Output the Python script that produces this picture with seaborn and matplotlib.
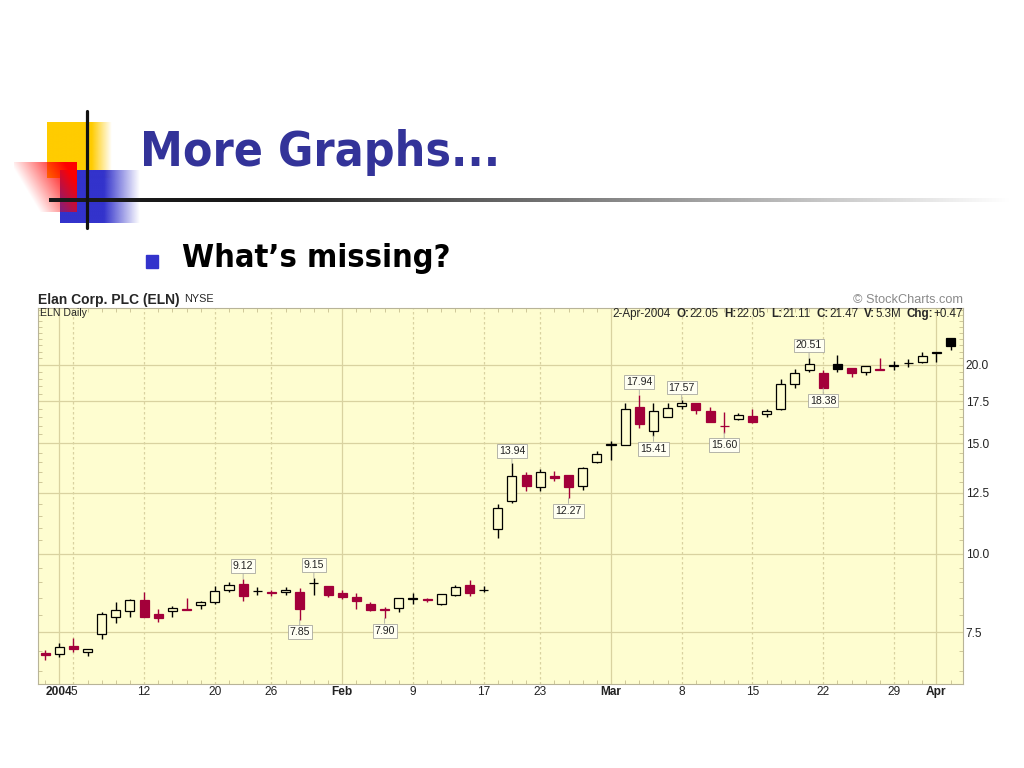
import matplotlib
matplotlib.use("Agg")
import matplotlib.pyplot as plt
import matplotlib.transforms as mtrans
import numpy as np
import pandas as pd
import seaborn as sns
from matplotlib import font_manager as fm
from matplotlib.ticker import FixedLocator, NullFormatter

# NYSE trading days shown on the chart (Dec 31 2003 .. Apr 2 2004)
holidays = ["2004-01-01", "2004-01-19", "2004-02-16"]
dates = pd.bdate_range("2003-12-31", "2004-04-02").drop(pd.to_datetime(holidays))

# daily prices of ELN
opens = [6.96, 6.91, 7.13, 6.98, 7.45, 7.92, 8.11, 8.44, 8.01, 8.10,
         8.18, 8.28, 8.38, 8.75, 8.95, 8.71, 8.70, 8.68, 8.68, 8.97,
         8.88, 8.65, 8.54, 8.31, 8.16, 8.21, 8.47, 8.46, 8.33, 8.59,
         8.91, 8.76, 10.95, 12.14, 13.35, 12.77, 13.28, 13.35, 12.82, 14.02,
         14.93, 14.91, 17.16, 15.69, 16.54, 17.19, 17.38, 16.91, 16.00, 16.40,
         16.58, 16.68, 16.99, 18.65, 19.63, 19.40, 20.05, 19.78, 19.51, 19.68,
         19.95, 20.12, 20.21, 20.90, 22.05]
highs = [7.02, 7.21, 7.33, 7.06, 8.08, 8.38, 8.46, 8.68, 8.18, 8.25,
         8.49, 8.41, 8.88, 9.02, 9.12, 8.86, 8.75, 8.84, 8.81, 9.15,
         8.90, 8.77, 8.67, 8.38, 8.23, 8.50, 8.65, 8.50, 8.63, 8.91,
         9.08, 8.88, 11.99, 13.94, 13.49, 13.64, 13.57, 13.37, 13.77, 14.59,
         15.15, 17.41, 17.94, 17.41, 17.41, 17.57, 17.40, 17.16, 16.85, 16.78,
         16.99, 17.00, 18.98, 19.68, 20.51, 19.63, 20.75, 19.78, 19.93, 20.50,
         20.26, 20.45, 21.00, 21.01, 22.05]
lows = [6.77, 6.85, 6.98, 6.86, 7.31, 7.77, 7.93, 7.92, 7.79, 7.93,
        8.14, 8.18, 8.33, 8.68, 8.41, 8.60, 8.56, 8.59, 7.85, 8.59,
        8.52, 8.46, 8.18, 8.11, 7.90, 8.08, 8.33, 8.38, 8.28, 8.57,
        8.56, 8.68, 10.58, 12.03, 12.60, 12.60, 13.07, 12.27, 12.66, 13.97,
        14.11, 14.90, 15.85, 15.41, 16.52, 16.99, 16.70, 16.22, 15.60, 16.34,
        16.18, 16.55, 16.95, 18.36, 19.51, 18.38, 19.47, 19.16, 19.28, 19.64,
        19.66, 19.86, 20.14, 20.20, 21.11]
closes = [6.90, 7.09, 7.04, 7.05, 8.01, 8.13, 8.44, 7.93, 7.90, 8.20,
          8.15, 8.38, 8.73, 8.91, 8.56, 8.72, 8.66, 8.77, 8.18, 8.99,
          8.61, 8.54, 8.41, 8.15, 8.13, 8.49, 8.50, 8.43, 8.62, 8.86,
          8.65, 8.77, 11.81, 13.30, 12.82, 13.51, 13.22, 12.80, 13.71, 14.42,
          14.96, 16.99, 16.08, 16.89, 17.09, 17.41, 16.95, 16.24, 15.98, 16.64,
          16.20, 16.91, 18.65, 19.40, 20.05, 18.40, 19.71, 19.40, 19.92, 19.66,
          19.97, 20.15, 20.67, 21.00, 21.47]
prior_close = 7.00  # Dec 30 2003, only used for the colour of the first candle

high_marks = [14, 19, 33, 42, 45, 54]
low_marks = [18, 24, 37, 43, 48, 55]

price_ticks = [7.5, 10.0, 12.5, 15.0, 17.5, 20.0]
quote = [("O:", "22.05"), ("H:", "22.05"), ("L:", "21.11"),
         ("C:", "21.47"), ("V:", "5.3M"), ("Chg:", "+0.47")]

BG = "#FEFDD0"
RED = "#A3003A"
GRID = "#D9D2A0"

sns.set_style("white")
plt.rcParams["font.family"] = ["Liberation Sans", "DejaVu Sans"]


def weight_of(f):
    w = f.weight
    if isinstance(w, str):
        w = fm.weight_dict.get(w, 400)
    return w


def narrow_bold_font():
    """Look for a bold narrow/condensed face, for the slide headings."""
    keys = ("Narrow", "Condensed", "Cond")
    for f in fm.fontManager.ttflist:
        narrow = any(k in f.name or k in f.fname for k in keys) or \
            str(f.stretch) in ("condensed", "semi-condensed", "extra-condensed")
        if narrow and weight_of(f) >= 600 and f.style == "normal":
            return fm.FontProperties(fname=f.fname)
    return fm.FontProperties(family=["Liberation Sans", "DejaVu Sans"],
                             weight="bold")


fig = plt.figure(figsize=(10.24, 7.68), dpi=100)
px = mtrans.Affine2D().scale(1 / 1024, -1 / 768).translate(0, 1) + fig.transFigure

# ---- slide decoration -------------------------------------------------
deco = fig.add_axes([0, 0, 1, 1], zorder=0)


def fade(rgb, alpha):
    img = np.zeros(alpha.shape + (4,))
    img[..., :3] = rgb
    img[..., 3] = np.clip(alpha, 0, 1)
    return img


u = np.linspace(0, 1, 200)[None, :]
v = np.linspace(0, 1, 200)[:, None]
deco.imshow(fade((1.0, 0.8, 0.0), (1 - u) / 0.31 + 0 * v),
            extent=(47, 112, 178, 122), aspect="auto", interpolation="bilinear")
deco.imshow(fade((0.2, 0.2, 0.8), (1 - u) / 0.45 + 0 * v),
            extent=(60, 140, 223, 170), aspect="auto", interpolation="bilinear")
deco.imshow(fade((1.0, 0.0, 0.0), 1.15 * u - 0.55 * v + 0.08),
            extent=(14, 77, 212, 162), aspect="auto", interpolation="bilinear")
grey = np.clip((np.linspace(49, 1010, 400) - 250) / 760, 0, 1)[None, :] * 0.9
bar_img = np.zeros((4, 400, 4))
bar_img[..., 0] = bar_img[..., 1] = bar_img[..., 2] = 0.1 + grey
bar_img[..., 3] = 1
deco.imshow(bar_img, extent=(49, 1010, 202, 198), aspect="auto",
            interpolation="bilinear")
deco.plot([87, 87], [111, 228], color="#111111", lw=2.3)
deco.add_patch(plt.Rectangle((146, 255), 12, 13, color="#3333CC"))
heading = narrow_bold_font()
title = deco.text(140, 166, "More Graphs...", fontproperties=heading,
                  fontsize=46, color="#333399", va="baseline")
bullet = deco.text(182, 267, "What\u2019s missing?", fontproperties=heading,
                   fontsize=30, color="black", va="baseline")
deco.set_xlim(0, 1024)
deco.set_ylim(768, 0)
deco.axis("off")

# ---- chart header -----------------------------------------------------
fig.text(38 / 1024, 1 - 300 / 768, "Elan Corp. PLC (ELN)",
         fontsize=10, fontweight="bold", va="center")
fig.text(184 / 1024, 1 - 299 / 768, "NYSE", fontsize=7.8, va="center")
fig.text(963 / 1024, 1 - 300 / 768, "\u00a9 StockCharts.com", fontsize=9.2,
         color="#8A8A8A", ha="right", va="center")

# ---- candlesticks -----------------------------------------------------
ax = fig.add_axes([38 / 1024, 1 - 684 / 768, 925 / 1024, 376 / 768], zorder=2)
ax.set_facecolor(BG)
ax.set_yscale("log")

n = len(closes)
idx = np.arange(n)
o = np.array(opens)
c = np.array(closes)
prev = np.concatenate([[prior_close], c[:-1]])
colors = np.where(c < prev, RED, "black")
faces = np.where(c < o, colors, BG)
bottoms = np.minimum(o, c)
heights = np.maximum(np.abs(c - o), 0.005)

ax.vlines(idx, lows, highs, colors=colors, lw=1.0, zorder=3)
ax.bar(idx, heights, bottom=bottoms, width=0.64, color=faces,
       edgecolor=colors, linewidth=0.9, zorder=4)

box = dict(boxstyle="square,pad=0.18", fc="#FFFFF2", ec="#A8A8A0", lw=0.6)
arrow = dict(arrowstyle="-", color="#A8A8A0", lw=0.6, shrinkA=0, shrinkB=0)
for i in high_marks:
    ax.annotate(f"{highs[i]:.2f}", xy=(i, highs[i]), xytext=(0, 5.5),
                textcoords="offset points", ha="center", va="bottom",
                fontsize=7.6, color="#222222", zorder=6, bbox=box,
                arrowprops=arrow)
for i in low_marks:
    ax.annotate(f"{lows[i]:.2f}", xy=(i, lows[i]), xytext=(0, -5.5),
                textcoords="offset points", ha="center", va="top",
                fontsize=7.6, color="#222222", zorder=6, bbox=box,
                arrowprops=arrow)

# ---- date axis: month starts solid, week starts dashed ----------------
tick_pos, tick_lab, bold = [], [], []
for k in range(1, n):
    d, p = dates[k], dates[k - 1]
    if d.month != p.month:
        tick_pos.append(k)
        tick_lab.append(str(d.year) if d.month == 1 else d.strftime("%b"))
        bold.append(True)
        ax.axvline(k, color=GRID, lw=0.9, zorder=1)
    elif d.isocalendar()[1] != p.isocalendar()[1]:
        tick_pos.append(k)
        tick_lab.append(str(d.day))
        bold.append(False)
        ax.axvline(k, color=GRID, lw=0.9, ls=(0, (2, 2)), zorder=1)

for t in price_ticks:
    ax.axhline(t, color=GRID, lw=0.9, zorder=1)

ax.set_xlim(-0.5, 64.88)
ax.set_ylim(6.20, 24.65)
ax.set_xticks(tick_pos, tick_lab)
for lab, b in zip(ax.get_xticklabels(), bold):
    lab.set_fontweight("bold" if b else "normal")
ax.xaxis.set_minor_locator(FixedLocator(idx))
ax.yaxis.tick_right()
ax.yaxis.set_major_locator(FixedLocator(price_ticks))
ax.set_yticklabels([f"{t:.1f}" for t in price_ticks])
ax.yaxis.set_minor_locator(FixedLocator(np.arange(6.5, 24.6, 0.5)))
ax.yaxis.set_minor_formatter(NullFormatter())
ax.tick_params(axis="both", which="major", length=0, labelsize=8.6,
               colors="#222222")
ax.tick_params(axis="x", which="major", pad=1.5)
ax.tick_params(axis="y", which="major", pad=2)
ax.tick_params(which="minor", direction="in", length=3, width=0.6,
               color="#C8C090", top=True, bottom=True, left=True, right=True)
for s in ax.spines.values():
    s.set_color("#B8B498")
    s.set_linewidth(0.8)

ax.text(40, 313, "ELN Daily", transform=px, fontsize=7.6, va="center",
        zorder=7)
t = ax.text(612, 314, "2-Apr-2004", transform=px, fontsize=8.4,
            va="center", zorder=7)
for label, value in quote:
    t = ax.annotate(label, xy=(1, 0), xycoords=t, xytext=(4.3, 0),
                    textcoords="offset points", va="bottom", fontsize=8.4,
                    fontweight="bold", zorder=7)
    t = ax.annotate(value, xy=(1, 0), xycoords=t, va="bottom",
                    fontsize=8.4, zorder=7)

# squeeze the slide headings to the widths they have on the slide
fig.canvas.draw()
for txt, width in ((title, 360), (bullet, 268)):
    w = txt.get_window_extent().width
    txt.set_fontsize(txt.get_fontsize() * width / w)

fig.savefig("out.png", dpi=100)
